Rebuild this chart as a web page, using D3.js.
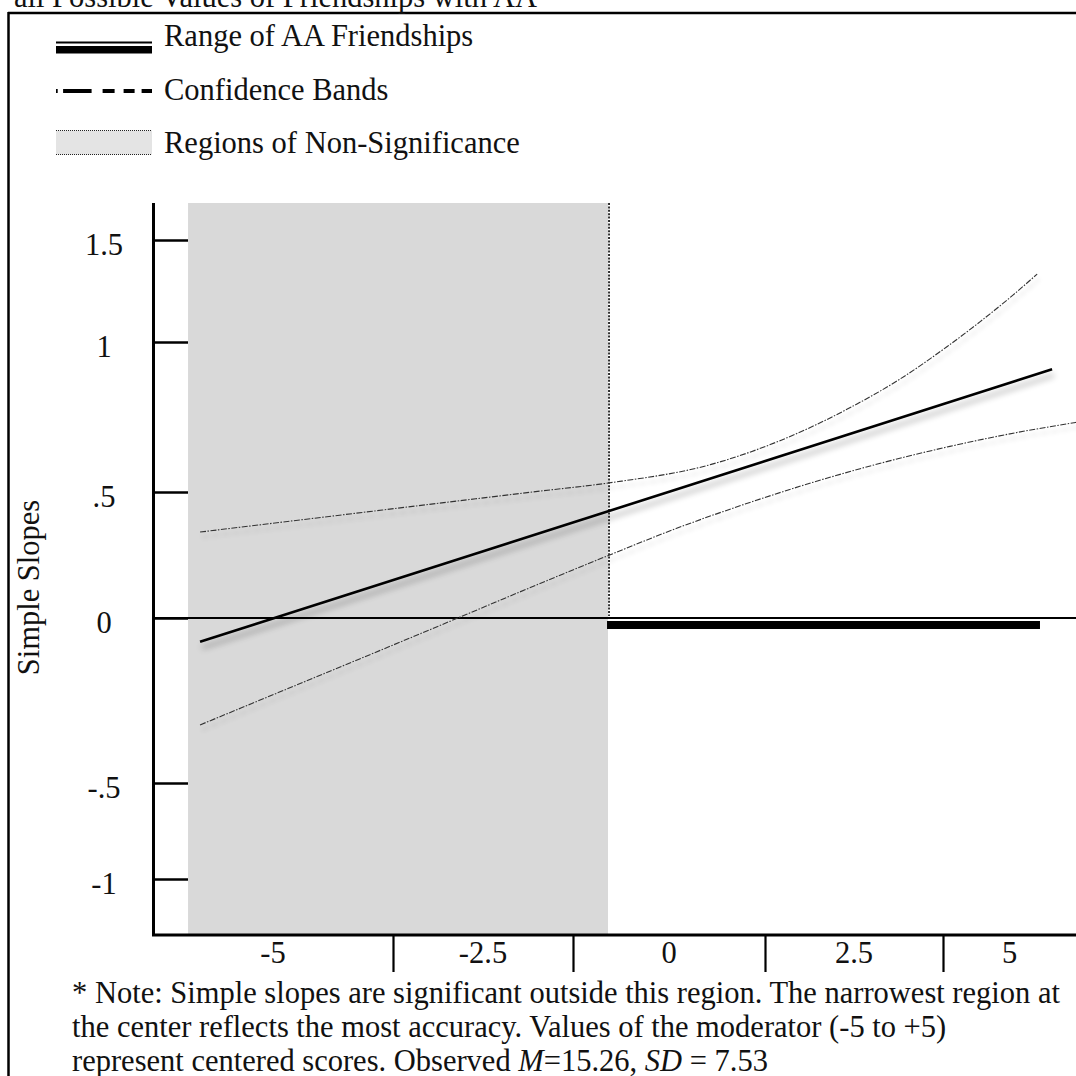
<!DOCTYPE html>
<html>
<head>
<meta charset="utf-8">
<script src="https://cdn.jsdelivr.net/npm/d3@7"></script>
<style>
  html, body { margin: 0; padding: 0; background: #fff; }
  svg { display: block; }
  text { font-family: "Liberation Serif", "Times New Roman", serif; fill: #111; }
</style>
</head>
<body>
<svg id="chart" width="1076" height="1076"></svg>
<script>
// ---------------- data ----------------
const titleText = "all Possible Values of Friendships with AA";
const xCategories = [-5, -2.5, 0, 2.5, 5];
const xTickLabels = ["-5", "-2.5", "0", "2.5", "5"];
const yTicks = [-1, -0.5, 0, 0.5, 1, 1.5];
const yTickLabels = ["-1", "-.5", "0", ".5", "1", "1.5"];
const yAxisTitle = "Simple Slopes";

// simple slope line (moderator value, slope)
const slopeX = [-5.76, 5.80];
const slopeY = [-0.072, 0.909];

// confidence bands
const upperX = [-5.76, -3.65, -1.71, -0.79, 0.55, 1.45, 2.42, 3.13, 3.83, 4.45, 5.07, 5.52];
const upperY = [0.341, 0.437, 0.503, 0.530, 0.592, 0.670, 0.778, 0.874, 0.985, 1.100, 1.231, 1.333];
const lowerX = [-5.76, -3.65, -0.79, 0.10, 0.99, 1.92, 2.89, 3.88, 5.16, 6.25];
const lowerY = [-0.324, -0.073, 0.248, 0.356, 0.452, 0.532, 0.597, 0.652, 0.699, 0.732];

// region of non-significance and observed range of AA friendships (moderator units)
const nonSigRange = [-5.885, -0.794];
const friendshipRange = [-0.807, 5.573];

const legendLabels = ["Range of AA Friendships", "Confidence Bands", "Regions of Non-Significance"];
const noteLines = [
  [["* Note: Simple slopes are significant outside this region. The narrowest region at", false]],
  [["the center reflects the most accuracy. Values of the moderator (-5 to +5)", false]],
  [["represent centered scores. Observed ", false], ["M", true], ["=15.26, ", false], ["SD", true], [" = 7.53", false]]
];

// ---------------- layout ----------------
const svg = d3.select("#chart");
const plotLeft = 153, plotRight = 1076, plotTop = 203, plotBottom = 935;
const FONT = 30.5;

// category boundaries (tick marks sit between categories)
const step = xCategories[1] - xCategories[0];
const xBounds = d3.range(xCategories.length + 1).map(i => xCategories[0] + (i - 0.5) * step);
const x = d3.scaleLinear().domain(xBounds).range([plotLeft, 393, 573, 765, 943, plotRight]);
const y = d3.scaleLinear().domain(yTicks).range([879, 783, 618, 492, 342, 240]);

// filters
const defs = svg.append("defs");
function shadow(id, blur, dx, dy, op) {
  const f = defs.append("filter").attr("id", id)
    .attr("filterUnits", "userSpaceOnUse").attr("x", 0).attr("y", 0).attr("width", 1076).attr("height", 1076);
  f.append("feGaussianBlur").attr("in", "SourceAlpha").attr("stdDeviation", blur);
  f.append("feOffset").attr("dx", dx).attr("dy", dy).attr("result", "o");
  f.append("feComponentTransfer").attr("in", "o").attr("result", "s")
    .append("feFuncA").attr("type", "linear").attr("slope", op);
  const m = f.append("feMerge");
  m.append("feMergeNode").attr("in", "s");
  m.append("feMergeNode").attr("in", "SourceGraphic");
}
shadow("shMain", 3.2, 2, 6, 0.35);
shadow("shBand", 2.5, 2, 5, 0.22);

// frame
svg.append("line").attr("x1", 8).attr("x2", 1076).attr("y1", 13).attr("y2", 13)
  .attr("stroke", "#000").attr("stroke-width", 2.5);
svg.append("line").attr("x1", 8.5).attr("x2", 8.5).attr("y1", 12).attr("y2", 1076)
  .attr("stroke", "#000").attr("stroke-width", 2.5);

// cut-off title
svg.append("text").attr("x", 14).attr("y", 7).attr("font-size", FONT).text(titleText);

// legend
const lg = svg.append("g");
const symX0 = 56, symX1 = 152, txtX = 164;
// item 1: thin + thick line
lg.append("line").attr("x1", symX0).attr("x2", symX1).attr("y1", 42.5).attr("y2", 42.5)
  .attr("stroke", "#000").attr("stroke-width", 2);
lg.append("rect").attr("x", symX0).attr("y", 46).attr("width", symX1 - symX0).attr("height", 7.5).attr("fill", "#000");
// item 2: dash pattern
lg.append("line").attr("x1", symX0).attr("x2", symX1).attr("y1", 91).attr("y2", 91)
  .attr("stroke", "#000").attr("stroke-width", 4)
  .attr("stroke-dasharray", "1.7,5.4,28.5,11,12,9,11,7,11,200");
// item 3: shaded box with dotted edges
lg.append("rect").attr("x", symX0).attr("y", 130.5).attr("width", symX1 - symX0).attr("height", 24).attr("fill", "#e4e4e4");
[130.5, 154.5].forEach(yy => lg.append("line").attr("x1", symX0).attr("x2", symX1).attr("y1", yy).attr("y2", yy)
  .attr("stroke", "#222").attr("stroke-width", 1).attr("stroke-dasharray", "1,1"));
lg.selectAll("text.leg").data(legendLabels).join("text").attr("class", "leg")
  .attr("x", txtX).attr("y", (d, i) => [46, 100, 153][i]).attr("font-size", FONT).text(d => d);

// region of non-significance
svg.append("rect")
  .attr("x", x(nonSigRange[0])).attr("y", plotTop)
  .attr("width", x(nonSigRange[1]) - x(nonSigRange[0])).attr("height", plotBottom - plotTop)
  .attr("fill", "#d9d9d9");

// y axis tick marks (pointing into plot)
const yAxisG = svg.append("g").attr("transform", `translate(${plotLeft},0)`)
  .call(d3.axisLeft(y).tickValues(yTicks).tickSizeInner(-35).tickSizeOuter(0).tickFormat(""));
yAxisG.select(".domain").remove();
yAxisG.selectAll(".tick line").attr("stroke", "#000").attr("stroke-width", 2.5);

// y tick labels
svg.append("g").selectAll("text").data(yTicks).join("text")
  .attr("x", 104).attr("y", d => y(d) + 15).attr("text-anchor", "middle").attr("font-size", FONT)
  .text((d, i) => yTickLabels[i]);

// y axis line
svg.append("line").attr("x1", plotLeft + 0.5).attr("x2", plotLeft + 0.5).attr("y1", plotTop).attr("y2", plotBottom)
  .attr("stroke", "#000").attr("stroke-width", 3);

// y axis title
svg.append("text").attr("transform", `translate(39,${(y(0.5) + y(-0.5)) / 2 - 50}) rotate(-90)`)
  .attr("text-anchor", "middle").attr("font-size", FONT).text(yAxisTitle);

// zero line
svg.append("line").attr("x1", plotLeft).attr("x2", plotRight).attr("y1", y(0)).attr("y2", y(0))
  .attr("stroke", "#000").attr("stroke-width", 2);

// range of AA friendships
svg.append("rect").attr("x", x(friendshipRange[0])).attr("y", y(0) + 3)
  .attr("width", x(friendshipRange[1]) - x(friendshipRange[0])).attr("height", 8).attr("fill", "#000");

// boundary of non-significance (dotted)
svg.append("line").attr("x1", x(nonSigRange[1]) + 1).attr("x2", x(nonSigRange[1]) + 1)
  .attr("y1", plotTop).attr("y2", y(0) - 2)
  .attr("stroke", "#000").attr("stroke-width", 1.6).attr("stroke-dasharray", "2,1.4");

// confidence bands
const bandLine = d3.line().x(d => x(d[0])).y(d => y(d[1])).curve(d3.curveMonotoneX);
[[upperX, upperY], [lowerX, lowerY]].forEach(([xs, ys]) => {
  svg.append("path").datum(xs.map((v, i) => [v, ys[i]]))
    .attr("d", bandLine).attr("fill", "none").attr("stroke", "#333").attr("stroke-width", 1.1)
    .attr("stroke-dasharray", "6,1.5,1.5,1.5").attr("filter", "url(#shBand)");
});

// simple slope line
const mainLine = d3.line().x(d => x(d[0])).y(d => y(d[1]));
svg.append("path").datum(slopeX.map((v, i) => [v, slopeY[i]]))
  .attr("d", mainLine).attr("fill", "none").attr("stroke", "#000").attr("stroke-width", 2.6)
  .attr("filter", "url(#shMain)");

// x axis: tick marks at category boundaries, labels centred in categories
const xTickG = svg.append("g").attr("transform", `translate(0,${plotBottom})`)
  .call(d3.axisBottom(x).tickValues(xBounds.slice(1, -1)).tickSizeInner(37).tickSizeOuter(0).tickFormat(""));
xTickG.select(".domain").remove();
xTickG.selectAll(".tick line").attr("stroke", "#000").attr("stroke-width", 2.2);

svg.append("g").selectAll("text").data(xCategories).join("text")
  .attr("x", d => x(d)).attr("y", plotBottom + 28).attr("text-anchor", "middle").attr("font-size", FONT)
  .text((d, i) => xTickLabels[i]);

svg.append("line").attr("x1", plotLeft - 1).attr("x2", plotRight).attr("y1", plotBottom).attr("y2", plotBottom)
  .attr("stroke", "#000").attr("stroke-width", 3);

// note
const note = svg.append("g");
noteLines.forEach((parts, i) => {
  const t = note.append("text").attr("x", 72).attr("y", 1003 + i * 34).attr("font-size", FONT);
  parts.forEach(([s, it]) => t.append("tspan").attr("font-style", it ? "italic" : null).text(s));
});
</script>
</body>
</html>
